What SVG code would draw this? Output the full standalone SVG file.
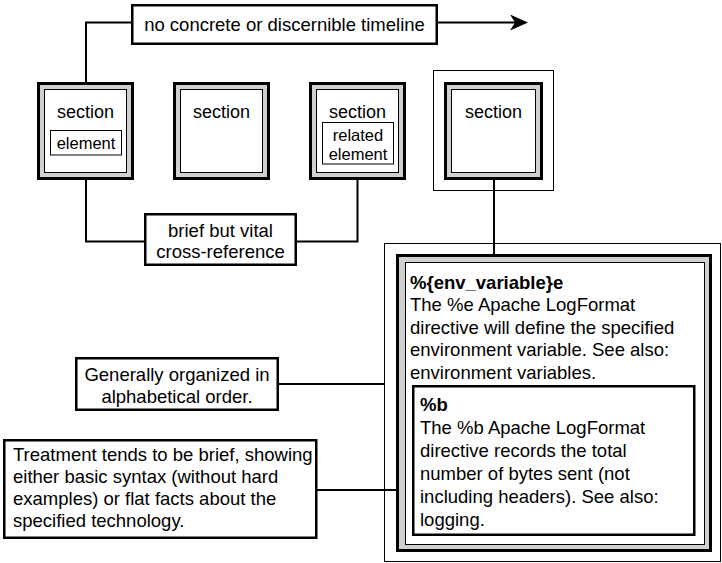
<svg xmlns="http://www.w3.org/2000/svg" width="722" height="563" viewBox="0 0 722 563">
<defs>
<style>
text{font-family:"Liberation Sans",Arial,Helvetica,sans-serif;fill:#000}
.t{font-size:18.5px}
.s{font-size:18px}
.e{font-size:16.5px}
.c{text-anchor:middle}
.b{font-weight:bold}
.box{fill:#fff;stroke:#000;stroke-width:2.5}
.outer{fill:#d0d0d0;stroke:#000;stroke-width:3}
.inner{fill:#fff;stroke:#000;stroke-width:1}
.frame{fill:#fff;stroke:#000;stroke-width:1}
.conn{fill:none;stroke:#000;stroke-width:2}
</style>
<marker id="arr" markerUnits="userSpaceOnUse" viewBox="0 0 18 16" refX="10" refY="8" markerWidth="18" markerHeight="16" orient="auto">
<path d="M0,0 L18,8 L0,16 L5,8 Z" fill="#000"/>
</marker>
</defs>
<rect width="722" height="563" fill="#fff"/>

<g id="frame-section4">
<rect class="frame" x="433.5" y="70.5" width="120" height="120"/>
</g>
<g id="frame-entries">
<rect class="frame" x="384.5" y="243.5" width="336" height="318"/>
</g>

<g id="connectors">
<path class="conn" d="M86,82 V22.5 H132"/>
<path class="conn" d="M437,22.5 H520" marker-end="url(#arr)"/>
<path class="conn" d="M86,155 V241.5 H145"/>
<path class="conn" d="M296,241.5 H357.5 V164"/>
<path class="conn" d="M494,179 V254"/>
<path class="conn" d="M278,384 H384.5"/>
<path class="conn" d="M316.5,490 H413"/>
</g>

<g id="timeline">
<rect class="box" x="132.25" y="5.25" width="304.5" height="38.5"/>
<text class="t c" x="284.5" y="31">no concrete or discernible timeline</text>
</g>

<g id="section1">
<rect class="outer" x="38.5" y="83.5" width="94" height="95"/>
<rect class="inner" x="44.5" y="89.5" width="82" height="83"/>
<text class="s c" x="85.5" y="117.5">section</text>
</g>
<g id="element">
<rect class="inner" x="50.5" y="130.5" width="71" height="24.5"/>
<text class="e c" x="86" y="149">element</text>
</g>

<g id="section2">
<rect class="outer" x="174.5" y="83.5" width="94" height="95"/>
<rect class="inner" x="180.5" y="89.5" width="82" height="83"/>
<text class="s c" x="221.5" y="117.5">section</text>
</g>

<g id="section3">
<rect class="outer" x="310.5" y="83.5" width="94" height="95"/>
<rect class="inner" x="316.5" y="89.5" width="82" height="83"/>
<text class="s c" x="357.5" y="117.5">section</text>
</g>
<g id="related-element">
<rect class="inner" x="322.5" y="122.5" width="71" height="41.5"/>
<text class="e c" x="358" y="141">related</text>
<text class="e c" x="358" y="159.5">element</text>
</g>

<g id="section4">
<rect class="outer" x="445.5" y="83.5" width="96" height="95"/>
<rect class="inner" x="451.5" y="89.5" width="84" height="83"/>
<text class="s c" x="493.5" y="117.5">section</text>
</g>

<g id="cross-reference">
<rect class="box" x="145.25" y="214.25" width="150.5" height="50.5"/>
<text class="t c" x="220.5" y="237">brief but vital</text>
<text class="t c" x="220.5" y="258">cross-reference</text>
</g>

<g id="entry-env">
<rect class="outer" x="397.5" y="255.5" width="313" height="295"/>
<rect class="inner" x="405.5" y="262.5" width="299" height="282"/>
<text class="t b" x="410" y="288.5">%{env_variable}e</text>
<text class="t" x="410" y="311">The %e Apache LogFormat</text>
<text class="t" x="410" y="333.5">directive will define the specified</text>
<text class="t" x="410" y="356">environment variable. See also:</text>
<text class="t" x="410" y="378.5">environment variables.</text>
</g>

<g id="entry-b">
<rect class="box" x="413.25" y="386.25" width="281" height="148.5"/>
<text class="t b" x="420" y="411">%b</text>
<text class="t" x="420" y="434">The %b Apache LogFormat</text>
<text class="t" x="420" y="457">directive records the total</text>
<text class="t" x="420" y="480">number of bytes sent (not</text>
<text class="t" x="420" y="503">including headers). See also:</text>
<text class="t" x="420" y="526">logging.</text>
</g>

<g id="note-order">
<rect class="box" x="76.25" y="358.25" width="201.5" height="51.5"/>
<text class="t c" x="177" y="381">Generally organized in</text>
<text class="t c" x="177" y="402.5">alphabetical order.</text>
</g>

<g id="note-treatment">
<rect class="box" x="4.25" y="440.25" width="312" height="97.5"/>
<text class="t" x="13" y="461">Treatment tends to be brief, showing</text>
<text class="t" x="13" y="483">either basic syntax (without hard</text>
<text class="t" x="13" y="505">examples) or flat facts about the</text>
<text class="t" x="13" y="527">specified technology.</text>
</g>
</svg>
